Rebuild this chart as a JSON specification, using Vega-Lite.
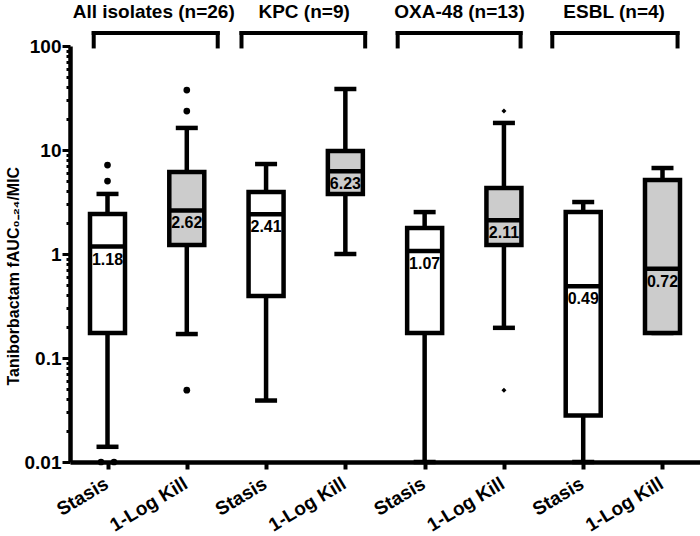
{
  "$schema": "https://vega.github.io/schema/vega-lite/v6.json",
  "width": 630,
  "height": 416,
  "autosize": {"type": "none"},
  "padding": {"left": 70, "top": 46, "right": 0, "bottom": 74},
  "background": "white",
  "config": {"view": {"stroke": null}, "font": "Liberation Sans"},
  "datasets": {
    "boxes": [
      {"grp": "All isolates", "cond": "Stasis", "idx": 1, "min": 0.014, "q1": 0.174, "median": 1.18, "q3": 2.43, "max": 3.78},
      {"grp": "All isolates", "cond": "1-Log Kill", "idx": 2, "min": 0.17, "q1": 1.22, "median": 2.62, "q3": 6.14, "max": 16.3},
      {"grp": "KPC", "cond": "Stasis", "idx": 3, "min": 0.039, "q1": 0.394, "median": 2.41, "q3": 3.94, "max": 7.33},
      {"grp": "KPC", "cond": "1-Log Kill", "idx": 4, "min": 1.0, "q1": 3.78, "median": 6.23, "q3": 9.8, "max": 38.6},
      {"grp": "OXA-48", "cond": "Stasis", "idx": 5, "min": 0.01, "q1": 0.174, "median": 1.07, "q3": 1.78, "max": 2.53},
      {"grp": "OXA-48", "cond": "1-Log Kill", "idx": 6, "min": 0.195, "q1": 1.22, "median": 2.11, "q3": 4.31, "max": 18.2},
      {"grp": "ESBL", "cond": "Stasis", "idx": 7, "min": 0.01, "q1": 0.028, "median": 0.49, "q3": 2.53, "max": 3.16},
      {"grp": "ESBL", "cond": "1-Log Kill", "idx": 8, "min": 0.174, "q1": 0.174, "median": 0.72, "q3": 5.15, "max": 6.71}
    ],
    "outliers": [
      {"grp": "All isolates", "idx": 1, "value": 7.17, "dup": 0},
      {"grp": "All isolates", "idx": 1, "value": 5.03, "dup": 0},
      {"grp": "All isolates", "idx": 1, "value": 0.01, "dup": 1},
      {"grp": "All isolates", "idx": 1, "value": 0.01, "dup": 2},
      {"grp": "All isolates", "idx": 2, "value": 37.7, "dup": 0},
      {"grp": "All isolates", "idx": 2, "value": 23.7, "dup": 0},
      {"grp": "All isolates", "idx": 2, "value": 0.049, "dup": 0},
      {"grp": "OXA-48", "idx": 6, "value": 23.7, "dup": 0},
      {"grp": "OXA-48", "idx": 6, "value": 0.049, "dup": 0}
    ],
    "groups": [
      {"label": "All isolates (n=26)", "start": 0.826, "end": 2.39, "mid": 1.583},
      {"label": "KPC (n=9)", "start": 2.69, "end": 4.25, "mid": 3.48},
      {"label": "OXA-48 (n=13)", "start": 4.66, "end": 6.21, "mid": 5.44},
      {"label": "ESBL (n=4)", "start": 6.61, "end": 8.19, "mid": 7.39}
    ]
  },
  "layer": [
    {
      "data": {"name": "boxes"},
      "mark": {"type": "rule", "strokeWidth": 4.5, "color": "black"},
      "encoding": {
        "x": {
          "field": "idx", "type": "quantitative",
          "scale": {"domain": [0.59, 8.41], "nice": false, "zero": false},
          "axis": {
            "values": [1, 2, 3, 4, 5, 6, 7, 8],
            "labelExpr": "datum.value % 2 == 1 ? 'Stasis' : '1-Log Kill'",
            "title": null, "grid": false,
            "labelAngle": -31, "labelAlign": "right", "labelBaseline": "top",
            "labelFontSize": 19, "labelFontWeight": "bold", "labelColor": "black",
            "labelPadding": 5, "labelOffset": -6, "labelOverlap": false, "labelBound": false, "labelFlush": false,
            "domainColor": "black", "domainWidth": 4.5,
            "tickColor": "black", "tickWidth": 4, "tickSize": 7
          }
        },
        "y": {
          "field": "min", "type": "quantitative",
          "scale": {"type": "log", "domain": [0.01, 100], "nice": false},
          "axis": {
            "values": [0.01, 0.02, 0.03, 0.04, 0.05, 0.06, 0.07, 0.08, 0.09, 0.1, 0.2, 0.3, 0.4, 0.5, 0.6, 0.7, 0.8, 0.9, 1, 2, 3, 4, 5, 6, 7, 8, 9, 10, 20, 30, 40, 50, 60, 70, 80, 90, 100],
            "format": "~g",
            "labelExpr": "abs(log(datum.value)/LN10 - round(log(datum.value)/LN10)) < 1e-6 ? datum.label : ''",
            "tickSize": {"condition": {"test": "abs(log(datum.value)/LN10 - round(log(datum.value)/LN10)) < 1e-6", "value": 8}, "value": 4},
            "tickWidth": 3, "tickColor": "black",
            "domainColor": "black", "domainWidth": 4.5,
            "labelFontSize": 19, "labelFontWeight": "bold", "labelColor": "black",
            "labelPadding": 1, "labelOverlap": false, "labelBound": false, "labelFlush": false,
            "grid": false,
            "title": "Taniborbactam fAUC₀₋₂₄/MIC",
            "titleFontSize": 16, "titleFontWeight": "bold", "titleColor": "black",
            "titleX": -57, "titleY": 339, "titleAngle": -90, "titleAlign": "left", "titleBaseline": "middle"
          }
        },
        "y2": {"field": "max"}
      }
    },
    {
      "data": {"name": "boxes"},
      "transform": [{"fold": ["min", "max"], "as": ["which", "v"]}],
      "mark": {"type": "tick", "orient": "horizontal", "size": 22, "thickness": 4.5, "color": "black", "opacity": 1},
      "encoding": {
        "x": {"field": "idx", "type": "quantitative"},
        "y": {"field": "v", "type": "quantitative"}
      }
    },
    {
      "data": {"name": "boxes"},
      "mark": {"type": "bar", "size": 35, "stroke": "black", "strokeWidth": 4.5, "opacity": 1},
      "encoding": {
        "x": {"field": "idx", "type": "quantitative"},
        "y": {"field": "q3", "type": "quantitative"},
        "y2": {"field": "q1"},
        "fill": {"field": "cond", "type": "nominal", "scale": {"domain": ["Stasis", "1-Log Kill"], "range": ["white", "#cccccc"]}, "legend": null}
      }
    },
    {
      "data": {"name": "boxes"},
      "mark": {"type": "tick", "orient": "horizontal", "size": 36, "thickness": 4.5, "color": "black", "opacity": 1},
      "encoding": {
        "x": {"field": "idx", "type": "quantitative"},
        "y": {"field": "median", "type": "quantitative"}
      }
    },
    {
      "data": {"name": "boxes"},
      "mark": {"type": "text", "fontSize": 16, "fontWeight": "bold", "baseline": "middle", "dy": 13, "color": "black"},
      "encoding": {
        "x": {"field": "idx", "type": "quantitative"},
        "y": {"field": "median", "type": "quantitative"},
        "text": {"field": "median", "type": "quantitative", "format": ".2f"}
      }
    },
    {
      "data": {"name": "outliers"},
      "transform": [{"filter": "datum.grp == 'All isolates' && datum.dup == 0"}],
      "mark": {"type": "point", "filled": true, "shape": "circle", "size": 45, "color": "black", "opacity": 1},
      "encoding": {
        "x": {"field": "idx", "type": "quantitative"},
        "y": {"field": "value", "type": "quantitative"}
      }
    },
    {
      "data": {"name": "outliers"},
      "transform": [{"filter": "datum.dup == 1"}],
      "mark": {"type": "point", "filled": true, "shape": "circle", "size": 45, "color": "black", "opacity": 1, "xOffset": -6.5},
      "encoding": {
        "x": {"field": "idx", "type": "quantitative"},
        "y": {"field": "value", "type": "quantitative"}
      }
    },
    {
      "data": {"name": "outliers"},
      "transform": [{"filter": "datum.dup == 2"}],
      "mark": {"type": "point", "filled": true, "shape": "circle", "size": 45, "color": "black", "opacity": 1, "xOffset": 6.5},
      "encoding": {
        "x": {"field": "idx", "type": "quantitative"},
        "y": {"field": "value", "type": "quantitative"}
      }
    },
    {
      "data": {"name": "outliers"},
      "transform": [{"filter": "datum.grp == 'OXA-48'"}],
      "mark": {"type": "point", "filled": true, "shape": "diamond", "size": 25, "color": "black", "opacity": 1},
      "encoding": {
        "x": {"field": "idx", "type": "quantitative"},
        "y": {"field": "value", "type": "quantitative"}
      }
    },
    {
      "data": {"name": "groups"},
      "mark": {"type": "rule", "strokeWidth": 4, "color": "black", "strokeCap": "square"},
      "encoding": {
        "x": {"field": "start", "type": "quantitative"},
        "x2": {"field": "end"},
        "y": {"datum": 133, "type": "quantitative"}
      }
    },
    {
      "data": {"name": "groups"},
      "transform": [{"fold": ["start", "end"], "as": ["side", "pos"]}],
      "mark": {"type": "rule", "strokeWidth": 4, "color": "black", "strokeCap": "square"},
      "encoding": {
        "x": {"field": "pos", "type": "quantitative"},
        "y": {"datum": 133, "type": "quantitative"},
        "y2": {"datum": 99}
      }
    },
    {
      "data": {"name": "groups"},
      "mark": {"type": "text", "fontSize": 19, "fontWeight": "bold", "baseline": "middle", "align": "center", "color": "black"},
      "encoding": {
        "x": {"field": "mid", "type": "quantitative"},
        "y": {"datum": 212, "type": "quantitative"},
        "text": {"field": "label"}
      }
    }
  ]
}
